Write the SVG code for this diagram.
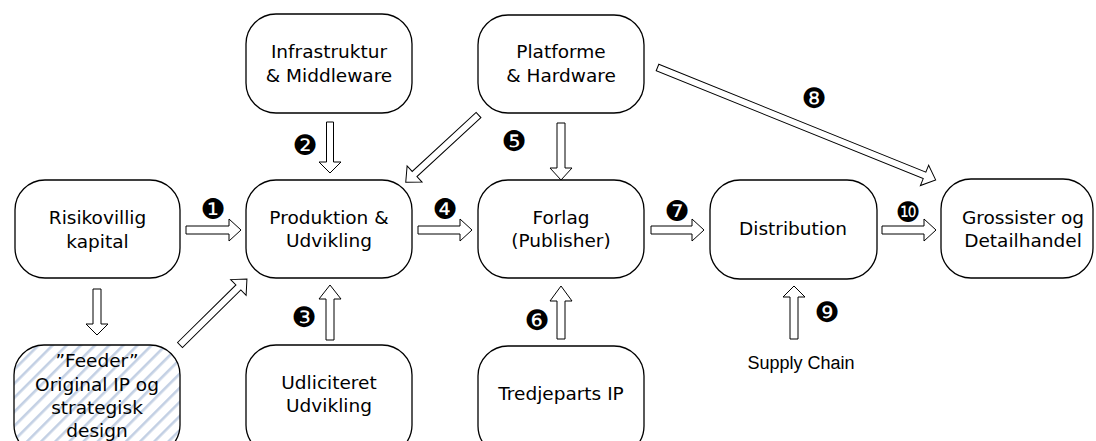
<svg xmlns="http://www.w3.org/2000/svg" width="1096" height="441" viewBox="0 0 1096 441">
<style>
.box{fill:#fff;stroke:#000;stroke-width:1.3}
.t{font-family:"DejaVu Sans",Verdana,sans-serif;font-size:18.5px;fill:#000;text-anchor:middle}
.s{font-family:"Liberation Sans",Arial,sans-serif;font-size:18px;fill:#000;text-anchor:middle}
.n{font-family:"DejaVu Sans",sans-serif;font-size:28px;fill:#000;text-anchor:middle}
.a{fill:#fff;stroke:#000;stroke-width:1}
</style>
<defs>
<pattern id="hatch" patternUnits="userSpaceOnUse" width="10" height="10" patternTransform="rotate(45)">
<rect width="10" height="10" fill="#fff"/>
<rect x="0" y="0" width="2.6" height="10" fill="#c3d0e4"/>
</pattern>
</defs>
<rect width="1096" height="441" fill="#fff"/>
<g id="risikovillig"><rect class="box" x="15" y="180" width="165" height="98" rx="30"/><text class="t" x="97.5" y="224">Risikovillig</text><text class="t" x="97.5" y="248">kapital</text></g>
<g id="produktion"><rect class="box" x="246" y="180" width="166" height="98" rx="30"/><text class="t" x="329" y="224">Produktion &amp;</text><text class="t" x="329" y="247">Udvikling</text></g>
<g id="forlag"><rect class="box" x="478" y="180" width="166" height="98" rx="30"/><text class="t" x="561" y="224">Forlag</text><text class="t" x="561" y="247">(Publisher)</text></g>
<g id="distribution"><rect class="box" x="710" y="180" width="167" height="99" rx="30"/><text class="t" x="793" y="235">Distribution</text></g>
<g id="grossister"><rect class="box" x="941" y="179" width="152" height="99" rx="30"/><text class="t" x="1023" y="224">Grossister og</text><text class="t" x="1023" y="247">Detailhandel</text></g>
<g id="infrastruktur"><rect class="box" x="246" y="14" width="166" height="99" rx="30"/><text class="t" x="329" y="58">Infrastruktur</text><text class="t" x="329" y="82">&amp; Middleware</text></g>
<g id="platforme"><rect class="box" x="478" y="15" width="166" height="98" rx="30"/><text class="t" x="561" y="58">Platforme</text><text class="t" x="561" y="82">&amp; Hardware</text></g>
<g id="feeder"><rect x="14" y="345" width="166" height="110" rx="30" fill="url(#hatch)" stroke="#000" stroke-width="1.3"/><text class="t" x="97" y="367">”Feeder”</text><text class="t" x="97" y="391">Original IP og</text><text class="t" x="97" y="414">strategisk</text><text class="t" x="97" y="437">design</text></g>
<g id="udliciteret"><rect class="box" x="246" y="345" width="166" height="110" rx="30"/><text class="t" x="329" y="389">Udliciteret</text><text class="t" x="329" y="412">Udvikling</text></g>
<g id="tredjeparts"><rect class="box" x="478" y="346" width="166" height="110" rx="30"/><text class="t" x="561" y="400">Tredjeparts IP</text></g>
<g id="supplychain"><text class="s" x="801" y="369">Supply Chain</text></g>
<g id="connectors">
<polygon class="a" transform="translate(186,230)" points="0,-4 43,-4 43,-11 55,0 43,11 43,4 0,4"/>
<polygon class="a" transform="translate(418,230)" points="0,-4 42,-4 42,-11 54,0 42,11 42,4 0,4"/>
<polygon class="a" transform="translate(651,230)" points="0,-4 41,-4 41,-11 53,0 41,11 41,4 0,4"/>
<polygon class="a" transform="translate(882,230)" points="0,-4 42,-4 42,-11 54,0 42,11 42,4 0,4"/>
<polygon class="a" transform="translate(330,122) rotate(90)" points="0,-3.5 40,-3.5 40,-11 51,0 40,11 40,3.5 0,3.5"/>
<polygon class="a" transform="translate(561,123) rotate(90)" points="0,-4 45,-4 45,-11 57,0 45,11 45,4 0,4"/>
<polygon class="a" transform="translate(97,289) rotate(90)" points="0,-4 35,-4 35,-11 46,0 35,11 35,4 0,4"/>
<polygon class="a" transform="translate(330,340) rotate(-90)" points="0,-4 41,-4 41,-11 55,0 41,11 41,4 0,4"/>
<polygon class="a" transform="translate(561,339) rotate(-90)" points="0,-4 38,-4 38,-11 53,0 38,11 38,4 0,4"/>
<polygon class="a" transform="translate(794,339) rotate(-90)" points="0,-4 42,-4 42,-11 53,0 42,11 42,4 0,4"/>
<polygon class="a" transform="translate(478.5,115) rotate(137.3)" points="0,-3.5 87,-3.5 87,-11 99,0 87,11 87,3.5 0,3.5"/>
<polygon class="a" transform="translate(180,345) rotate(-44.6)" points="0,-3.5 82,-3.5 82,-11 94,0 82,11 82,3.5 0,3.5"/>
<polygon class="a" transform="translate(657.5,67.5) rotate(22)" points="0,-3.5 288,-3.5 288,-11 300,0 288,11 288,3.5 0,3.5"/>
</g>
<g id="numbers">
<text class="n" x="213" y="218.5">❶</text>
<text class="n" x="305" y="154.5">❷</text>
<text class="n" x="304" y="326.5">❸</text>
<text class="n" x="445" y="218.5">❹</text>
<text class="n" x="514" y="150.5">❺</text>
<text class="n" x="537" y="329.5">❻</text>
<text class="n" x="677" y="220.5">❼</text>
<text class="n" x="814" y="107.5">❽</text>
<text class="n" x="827" y="321.5">❾</text>
<text class="n" x="908" y="221.5">❿</text>
</g>
</svg>
